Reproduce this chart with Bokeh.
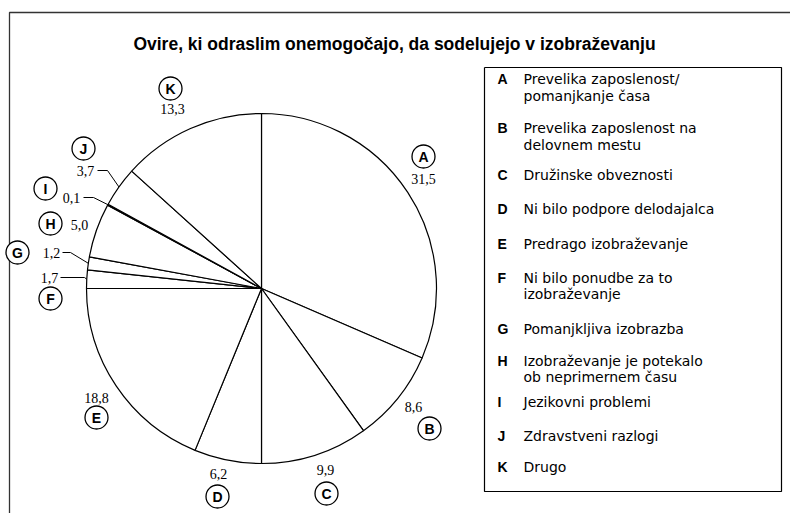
import numpy as np
from bokeh.plotting import figure
from bokeh.models import Range1d, ColumnDataSource
from bokeh.core.properties import value
from bokeh.embed import file_html
from bokeh.resources import INLINE

# ---------------- data ----------------
title = "Ovire, ki odraslim onemogočajo, da sodelujejo v izobraževanju"
letters = ["A", "B", "C", "D", "E", "F", "G", "H", "I", "J", "K"]
shares = [31.5, 8.6, 9.9, 6.2, 18.8, 1.7, 1.2, 5.0, 0.1, 3.7, 13.3]
share_labels = ["31,5", "8,6", "9,9", "6,2", "18,8", "1,7", "1,2", "5,0", "0,1", "3,7", "13,3"]
legend_texts = [
    ["Prevelika zaposlenost/", "pomanjkanje časa"],
    ["Prevelika zaposlenost na", "delovnem mestu"],
    ["Družinske obveznosti"],
    ["Ni bilo podpore delodajalca"],
    ["Predrago izobraževanje"],
    ["Ni bilo ponudbe za to", "izobraževanje"],
    ["Pomanjkljiva izobrazba"],
    ["Izobraževanje je potekalo", "ob neprimernem času"],
    ["Jezikovni problemi"],
    ["Zdravstveni razlogi"],
    ["Drugo"],
]

# ---------------- layout (page pixels) ----------------
W, H = 790, 513
def fx(x):
    return x
def fy(y):
    return H - y

CX, CY, R = 261, 288, 175
circle_pos = {"A": (423, 156), "B": (429, 428), "C": (326, 493), "D": (217, 496),
              "E": (96, 417), "F": (50, 298), "G": (17, 252), "H": (50, 223),
              "I": (45, 188), "J": (83, 148), "K": (170, 88)}
label_pos = {"A": (423, 178), "B": (413, 406), "C": (325, 469), "D": (218, 473),
             "E": (96, 397), "F": (49, 277), "G": (51, 252), "H": (79, 224),
             "I": (71, 197), "J": (85, 170), "K": (172, 108)}
leaders = {"J": [(97, 170), (107, 170)], "I": [(83, 197), (93, 197)],
           "G": [(62, 252), (70, 252)], "F": [(60, 277), (84, 277)]}
legend_rows = [[78, 95], [127, 144], [174], [208], [243], [277, 293],
               [328], [360, 376], [401], [435], [466]]

p = figure(width=W, height=H, x_range=Range1d(0, W), y_range=Range1d(0, H),
           output_backend="svg", toolbar_location=None, min_border=0,
           x_axis_location=None, y_axis_location=None)
p.grid.visible = False
p.outline_line_color = None
p.background_fill_color = "white"

# outer frame (top and left edges visible)
p.line([fx(9), fx(9), fx(790)], [fy(513), fy(12), fy(12)], line_color="#333333", line_width=1.3)

# title
p.text(x=[fx(394)], y=[fy(43)], text=[title], text_font=value("Liberation Sans"),
       text_font_style="bold", text_font_size="17.5px", text_align="center",
       text_baseline="middle", text_color="black")

# pie
vals = np.array(shares, dtype=float)
tot = vals.sum()
cum_end = np.cumsum(vals) / tot
cum_start = cum_end - vals / tot
start_ang = np.pi / 2 - 2 * np.pi * cum_end
end_ang = np.pi / 2 - 2 * np.pi * cum_start
mid_ang = (start_ang + end_ang) / 2
src = ColumnDataSource(dict(x=[fx(CX)] * len(vals), y=[fy(CY)] * len(vals),
                            s=start_ang, e=end_ang))
p.wedge(x="x", y="y", radius=R, start_angle="s", end_angle="e", source=src,
        fill_color="white", line_color="black", line_width=1.2)

# leader lines
xs, ys = [], []
for i, L in enumerate(letters):
    if L in leaders:
        pts = leaders[L]
        ax = fx(CX) + R * np.cos(mid_ang[i])
        ay = fy(CY) + R * np.sin(mid_ang[i])
        xs.append([fx(pts[0][0]), fx(pts[1][0]), ax])
        ys.append([fy(pts[0][1]), fy(pts[1][1]), ay])
p.multi_line(xs, ys, line_color="black", line_width=1)

# circled letters
p.scatter(x=[fx(circle_pos[L][0]) for L in letters], y=[fy(circle_pos[L][1]) for L in letters],
          marker="circle", size=23, fill_color="white", line_color="black", line_width=1.3)
p.text(x=[fx(circle_pos[L][0]) for L in letters], y=[fy(circle_pos[L][1]) for L in letters],
       text=letters, text_font=value("Liberation Sans"), text_font_style="bold",
       text_font_size="14px", text_align="center", text_baseline="middle", text_color="black")
# value labels
p.text(x=[fx(label_pos[L][0]) for L in letters], y=[fy(label_pos[L][1]) for L in letters],
       text=share_labels, text_font=value("Liberation Serif"), text_font_size="14px",
       text_align="center", text_baseline="middle", text_color="black")

# legend box
p.line([fx(484), fx(781), fx(781), fx(484), fx(484)],
       [fy(67), fy(67), fy(491), fy(491), fy(67)], line_color="black", line_width=1.2)
lx, ly, lt = [], [], []
tx, ty, tt = [], [], []
for L, lines, rows in zip(letters, legend_texts, legend_rows):
    lx.append(fx(497)); ly.append(fy(rows[0])); lt.append(L)
    for line, r in zip(lines, rows):
        tx.append(fx(523)); ty.append(fy(r)); tt.append(line)
p.text(x=lx, y=ly, text=lt, text_font=value("Liberation Sans"), text_font_style="bold",
       text_font_size="14px", text_align="left", text_baseline="middle", text_color="black")
p.text(x=tx, y=ty, text=tt, text_font=value("DejaVu Sans"), text_font_size="14px",
       text_align="left", text_baseline="middle", text_color="black")

open("out.html", "w").write(file_html(p, INLINE))
